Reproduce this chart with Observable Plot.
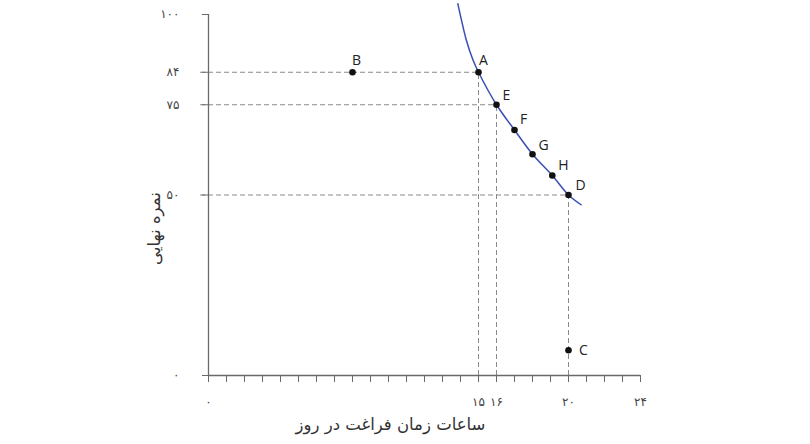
<!DOCTYPE html>
<html><head><meta charset="utf-8">
<script src="https://cdn.jsdelivr.net/npm/d3@7"></script>
<script src="https://cdn.jsdelivr.net/npm/@observablehq/plot@0.6"></script>
<style>body{margin:0;background:#fff}</style>
</head><body><div id="chart"></div>
<script>
const pointNames = ["A","B","C","D","E","F","G","H"];
const pointX = [15, 8, 20, 20, 16, 17, 18, 19.1];
const pointY = [84, 84, 7, 50, 75, 68, 61.3, 55.4];
const curveX = [13.85, 14.06, 14.33, 14.7, 15, 16, 17, 18, 19.1, 20, 20.7];
const curveY = [103, 98.3, 92.8, 87.3, 84, 75, 68, 61.3, 55.4, 50, 47.3];
const guideNames = ["A","E","D"];
const xTickVals = [0, 15, 16, 20, 24];
const xTickLabels = ["۰", "۱۵", "۱۶", "۲۰", "۲۴"];
const yTickVals = [0, 50, 75, 84, 100];
const yTickLabels = ["۰", "۵۰", "۷۵", "۸۴", "۱۰۰"];
const xTitle = "ساعات زمان فراغت در روز";
const yTitle = "نمره نهایی";

// label offsets in pixels (style)
const labelOffsets = {A: [5, -12], B: [4, -12], C: [15, 0], D: [12, -9], E: [10, -9], F: [9, -11], G: [11, -9], H: [11, -10]};

const points = pointNames.map((n, i) => ({name: n, x: pointX[i], y: pointY[i]}));
const curve = curveX.map((x, i) => ({x, y: curveY[i]}));
const guides = points.filter(p => guideNames.includes(p.name));
const xFmt = d => { const i = xTickVals.indexOf(d); return i >= 0 ? xTickLabels[i] : ""; };
const yFmt = d => { const i = yTickVals.indexOf(d); return i >= 0 ? yTickLabels[i] : ""; };
const axisColor = "#6a6a6a";
const persian = "'DejaVu Sans', sans-serif";

const chart = Plot.plot({
  width: 810, height: 444,
  marginLeft: 208, marginRight: 170, marginTop: 14, marginBottom: 69,
  x: {domain: [0, 24], label: null},
  y: {domain: [0, 100], label: null},
  style: {fontFamily: persian, color: "#444", background: "#fff"},
  marks: [
    Plot.ruleY(guides, {y: "y", x1: 0, x2: "x", stroke: "#8a8a8a", strokeDasharray: "5,3", strokeWidth: 1, insetLeft: -8}),
    Plot.ruleX(guides, {x: "x", y1: 0, y2: "y", stroke: "#8a8a8a", strokeDasharray: "5,3", strokeWidth: 1}),
    Plot.axisX({ticks: d3.range(0, 25), tickFormat: xFmt, tickSize: 7, tickPadding: 15, stroke: axisColor, fontSize: 12, fill: "#444", label: null}),
    Plot.axisY({ticks: yTickVals, tickFormat: yFmt, tickSize: 6, tickPadding: 23, stroke: axisColor, fontSize: 12, fill: "#444", label: null}),
    Plot.ruleY([0], {stroke: axisColor, strokeWidth: 1.3}),
    Plot.ruleX([0], {stroke: axisColor, strokeWidth: 1.3}),
    Plot.line(curve, {x: "x", y: "y", curve: "catmull-rom", stroke: "#3b4fb3", strokeWidth: 1.5}),
    Plot.dot(points, {x: "x", y: "y", r: 3.3, fill: "#111", stroke: "none"}),
    ...points.map(p => Plot.text([p], {x: "x", y: "y", text: "name", dx: labelOffsets[p.name][0], dy: labelOffsets[p.name][1], fontSize: 14, fill: "#222", fontFamily: "'Open Sans', sans-serif", textAnchor: "middle"})),
    Plot.text([xTitle], {frameAnchor: "bottom", dx: -34, dy: 54, fontSize: 16.5, fill: "#333"}),
    Plot.text([yTitle], {x: 0, y: 40.7, dx: -54, rotate: -90, fontSize: 16.5, fill: "#333"})
  ]
});
document.getElementById("chart").append(chart);
</script></body></html>
